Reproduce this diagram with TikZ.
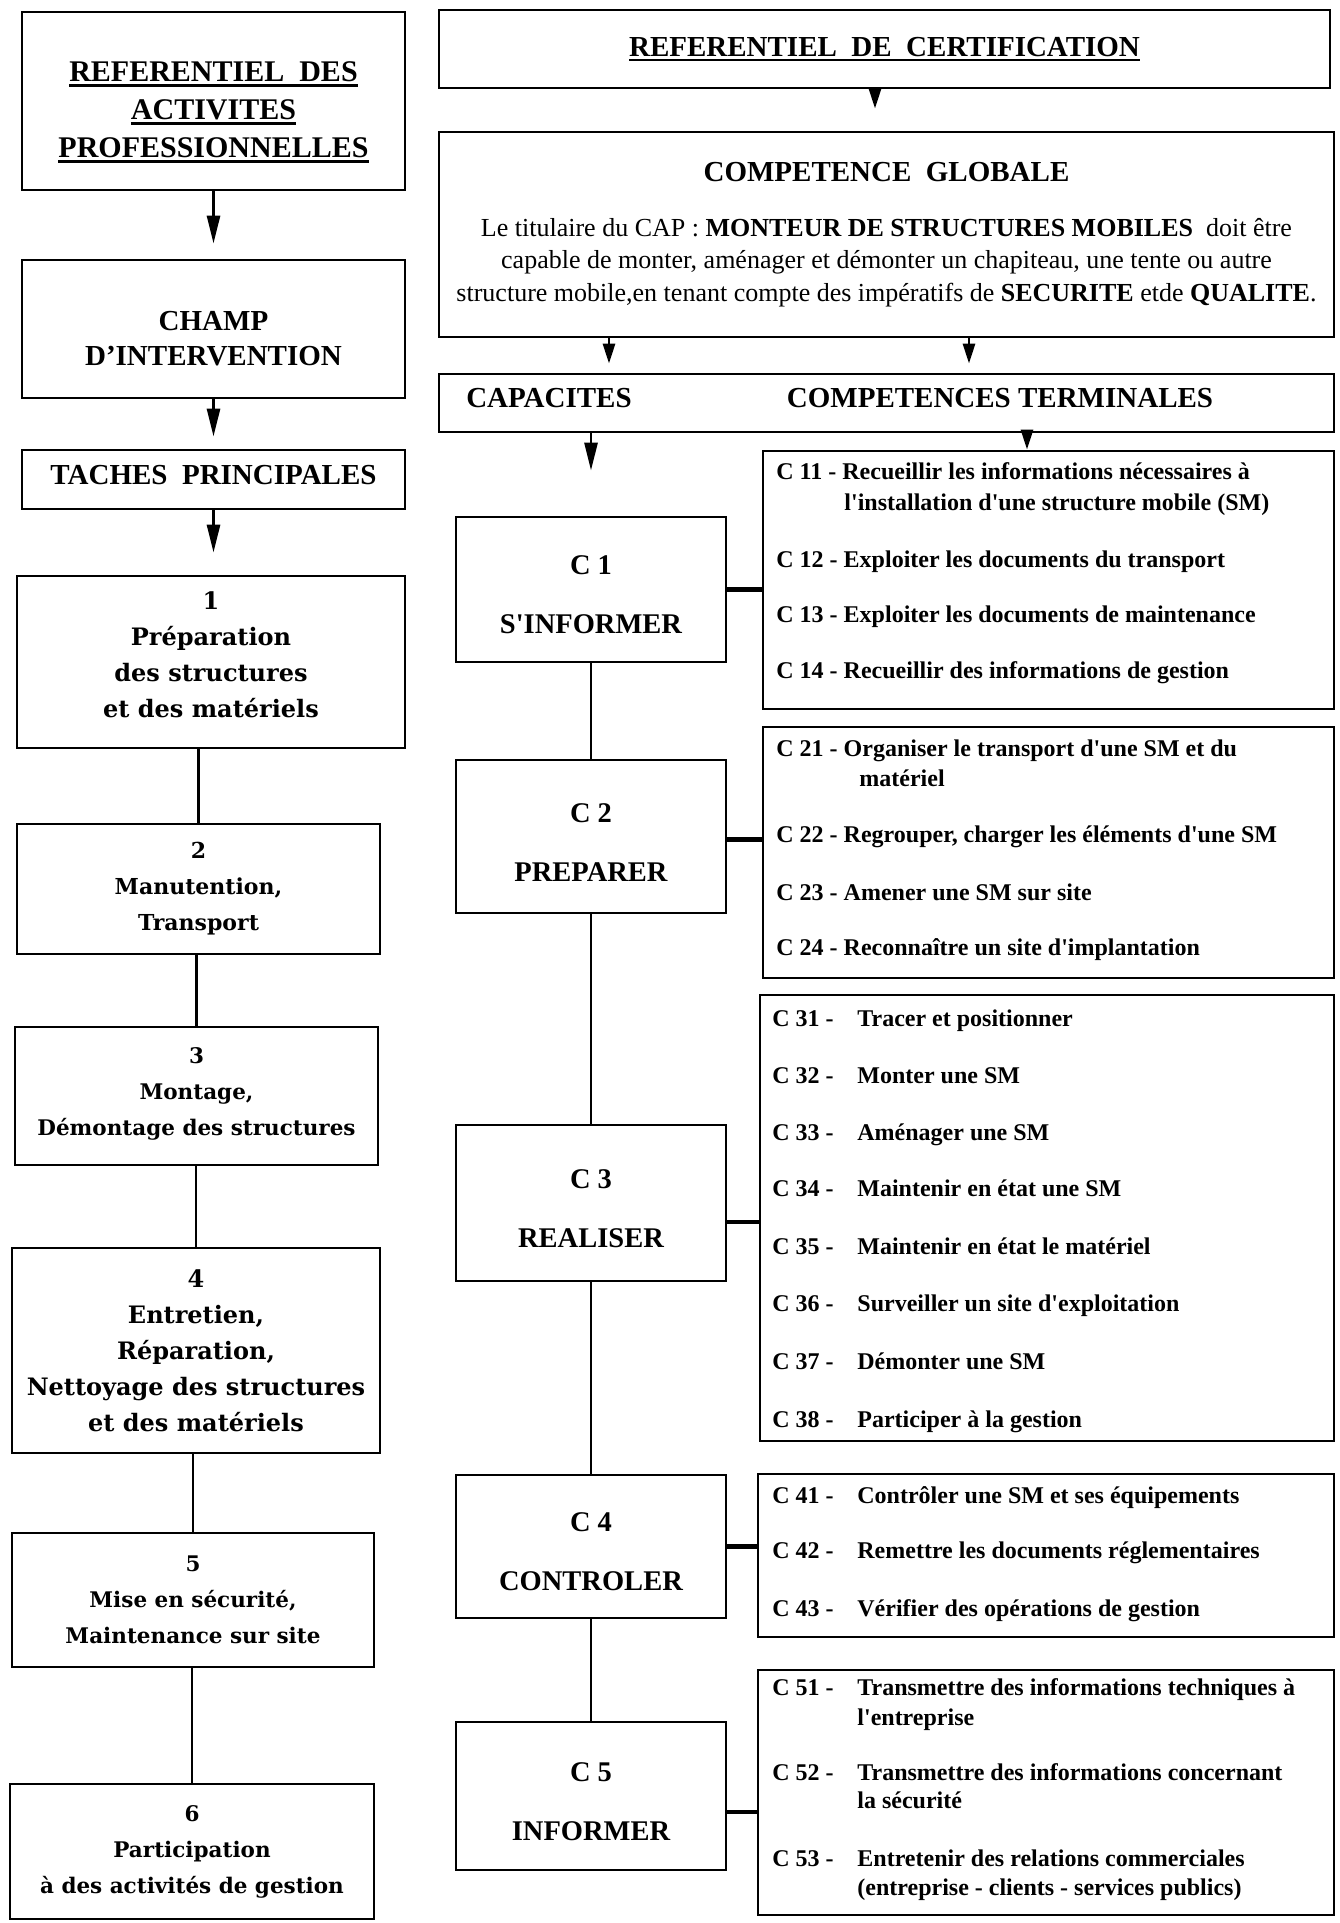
\documentclass[tikz,border=0pt]{standalone}
\usepackage{fontspec}
\setmainfont{Liberation Serif}
\newfontfamily\taskfont{DejaVu Serif}
\usetikzlibrary{arrows.meta}

% underline with a thick rule
\newcommand{\ulined}[1]{\setbox0\hbox{#1}\rlap{\rule[-5pt]{\wd0}{2.6pt}}\box0}
% straight apostrophe as in the lists
\newcommand{\sq}{\textquotesingle}

\tikzset{wh/.style 2 args={minimum width=#1pt,minimum height=#2pt}}

\begin{document}
\begin{tikzpicture}[x=1pt,y=-1pt,line width=2.8pt]
    \tikzstyle{box}=[draw,inner sep=0pt,align=center,font=\bfseries\fontsize{29}{37}\selectfont]
    \tikzstyle{task box}=[box]
    \tikzstyle{cap box}=[box,font=\bfseries\fontsize{28.5}{59}\selectfont]
    \tikzstyle{list box}=[draw,inner sep=0pt]
    \tikzstyle{head}=[inner sep=0pt,font=\bfseries\fontsize{29}{33}\selectfont]
    \tikzstyle{item}=[anchor=base west,inner sep=0pt,font=\bfseries\fontsize{24}{30}\selectfont]
    \tikzstyle{arr}=[-{Triangle[length=28pt,width=13pt]}]
    \tikzstyle{short arr}=[-{Triangle[length=20pt,width=12pt]}]
    \tikzstyle{link}=[line width=4.5pt]

    \useasboundingbox (0,0) rectangle (1340,1923);

    % Draw the left column
    \node[box,wh={383}{178},font=\bfseries\fontsize{30}{38}\selectfont] (refap) at (213.5,101)
        {\rule{0pt}{42pt}\ulined{REFERENTIEL\ \ DES}\\\ulined{ACTIVITES}\\\ulined{PROFESSIONNELLES}};
    \node[box,wh={383}{138},font=\bfseries\fontsize{29}{35}\selectfont] (champ) at (213.5,329)
        {\rule{0pt}{38pt}CHAMP\\D'INTERVENTION};
    \node[box,wh={383}{59}] (taches) at (213.5,479.5) {TACHES\ \ PRINCIPALES\rule[-10pt]{0pt}{10pt}};

    % Draw the task boxes
    \foreach \i/\x/\y/\bw/\bh/\fs/\txt in {1/211/662/388/172/24/{Préparation\\des structures\\et des matériels\rule[-14pt]{0pt}{1pt}},
            2/198.5/889/363/130/22/{Manutention,\\Transport},
            3/196.5/1096/363/138/21.5/{Montage,\\Démontage des structures\rule[-8pt]{0pt}{1pt}},
            4/196/1350.5/368/205/24/{Entretien,\\Réparation,\\Nettoyage des structures\\et des matériels},
            5/193/1600/362/134/21.5/{Mise en sécurité,\\Maintenance sur site},
            6/192/1851.5/364/135/21.5/{Participation\\à des activités de gestion}}
        \node[task box,wh={\bw}{\bh},font=\taskfont\bfseries\fontsize{\fs}{36}\selectfont] (t\i) at (\x,\y) {\i\\\txt};

    \draw[arr,shorten >=15pt] (refap) -- (champ);
    \draw[arr,shorten >=12pt] (champ) -- (taches);
    \draw[arr,shorten >=22pt] (taches.south) -- (taches.south |- t1.north);
    \foreach \a/\b in {1/2,2/3,3/4,4/5,5/6}
        \draw (t\b.north) -- (t\b.north |- t\a.south);

    % Draw the certification side
    \node[box,wh={891}{78}] (cert) at (884.5,49) {\ulined{REFERENTIEL\ \ DE\ \ CERTIFICATION}};
    \node[box,wh={895}{205},font=\fontsize{26}{32.5}\selectfont] (global) at (886.5,234.5)
        {{\bfseries\fontsize{29}{33}\selectfont COMPETENCE\ \ GLOBALE}\\[22pt]
         Le titulaire du CAP : \textbf{MONTEUR DE STRUCTURES MOBILES}\ \ doit être\\
         capable de monter, aménager et démonter un chapiteau, une tente ou autre\\
         structure mobile,en tenant compte des impératifs de \textbf{SECURITE} etde \textbf{QUALITE}.};
    \node[list box,wh={895}{58}] (capa) at (886.5,403) {};
    \node[head] (capl) at (549,398) {CAPACITES};
    \node[head] (capr) at (1000,398) {COMPETENCES TERMINALES};

    \draw[short arr,shorten >=22pt] ([xshift=-9.5pt]cert.south) -- ([xshift=-9.5pt]cert.south |- global.north);
    \draw[short arr,shorten >=9pt] ([xshift=-277.5pt]global.south) -- ([xshift=-277.5pt]global.south |- capa.north);
    \draw[short arr,shorten >=9pt] ([xshift=82.5pt]global.south) -- ([xshift=82.5pt]global.south |- capa.north);

    % Draw the capacities and their lists
    \foreach \i/\y/\bh/\txt in {1/589.5/145/S\sq INFORMER,2/836.5/153/PREPARER,3/1203/156/REALISER,
            4/1546.5/143/CONTROLER,5/1796/148/INFORMER}
        \node[cap box,wh={270}{\bh}] (c\i) at (591,\y) {\rule{0pt}{30pt}C \i\\\txt};
    \foreach \i/\x/\y/\bw/\bh in {1/1048.5/580/571/258,2/1048.5/852.5/571/251,3/1047/1218/574/446,
            4/1046/1555.5/576/163,5/1046/1792.5/576/245}
        \node[list box,wh={\bw}{\bh}] (c\i x) at (\x,\y) {};

    \draw[arr,shorten >=45pt] (capa.south -| c1.north) -- (c1.north);
    \draw[short arr] ([xshift=-21.5pt]c1x.north |- capa.south) -- ([xshift=-21.5pt]c1x.north);
    \foreach \a/\b in {1/2,2/3,3/4,4/5}
        \draw (c\a) -- (c\b);
    \foreach \i/\dy in {1/0,2/-3,3/-19,4/0,5/-16}
        \draw[link] ([yshift=\dy pt]c\i.east) -- ([yshift=\dy pt]c\i.east -| c\i x.west);

    % C1 and C2 competences
    \foreach \y/\i/\txt in {479/11/{Recueillir les informations nécessaires à},
            567/12/{Exploiter les documents du transport},
            622/13/{Exploiter les documents de maintenance},
            678/14/{Recueillir des informations de gestion},
            756/21/{Organiser le transport d\sq une SM et du},
            842/22/{Regrouper, charger les éléments d\sq une SM},
            900/23/{Amener une SM sur site},
            955/24/{Reconnaître un site d\sq implantation}}
        \node[item] (c\i) at (775,\y) {C \i\ - \txt};
    \node[item] (c11b) at (843,510) {l\sq installation d\sq une structure mobile (SM)};
    \node[item] (c21b) at (858,786) {matériel};

    % C3, C4 and C5 competences
    \foreach \y/\i/\txt in {1026/31/{Tracer et positionner},1083/32/{Monter une SM},
            1140/33/{Aménager une SM},1196/34/{Maintenir en état une SM},
            1254/35/{Maintenir en état le matériel},1311/36/{Surveiller un site d\sq exploitation},
            1369/37/{Démonter une SM},1427/38/{Participer à la gestion},
            1503/41/{Contrôler une SM et ses équipements},
            1558/42/{Remettre les documents réglementaires},
            1616/43/{Vérifier des opérations de gestion},
            1695/51/{Transmettre des informations techniques à},
            1780/52/{Transmettre des informations concernant},
            1866/53/{Entretenir des relations commerciales}} {
        \node[item] (l\i) at (771,\y) {C \i\ -};
        \node[item] (c\i) at (856,\y) {\txt};
    }
    \node[item] (c51b) at (856,1725) {l\sq entreprise};
    \node[item] (c52b) at (856,1808) {la sécurité};
    \node[item] (c53b) at (856,1895) {(entreprise - clients - services publics)};
\end{tikzpicture}
\end{document}
